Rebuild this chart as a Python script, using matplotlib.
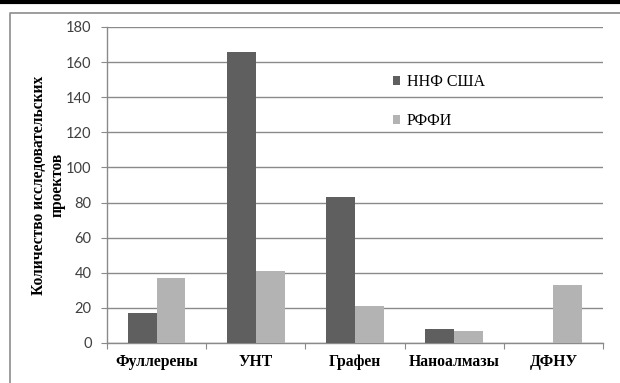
import matplotlib
matplotlib.use("Agg")
import matplotlib.pyplot as plt
from matplotlib.lines import Line2D
import numpy as np

categories = ["Фуллерены", "УНТ", "Графен", "Наноалмазы", "ДФНУ"]
nsf_usa = [17, 166, 83, 8, 0]
rffi = [37, 41, 21, 7, 33]
series_names = ["ННФ США", "РФФИ"]
y_ticks = [0, 20, 40, 60, 80, 100, 120, 140, 160, 180]
y_label = "Количество исследовательских\nпроектов"

W, H = 620, 383
fig = plt.figure(figsize=(W / 100, H / 100), dpi=100)
fig.patch.set_facecolor("white")

# thick black rule at the top and the chart frame
fig.add_artist(Line2D([0, 1], [1 - 1.5 / H, 1 - 1.5 / H], color="black", lw=3,
                      transform=fig.transFigure))
fig.add_artist(Line2D([9.5 / W, 9.5 / W, 1.0], [0, 1 - 12.5 / H, 1 - 12.5 / H],
                      color="#8c8c8c", lw=1.2, transform=fig.transFigure))

left, right, top, bottom = 107, 603, 27, 343
ax = fig.add_axes([left / W, 1 - bottom / H, (right - left) / W, (bottom - top) / H])

dark = "#5f5f5f"
light = "#b3b3b3"
x = np.arange(len(categories))
bw = 0.29
ax.bar(x - bw / 2, nsf_usa, width=bw, color=dark, label=series_names[0], zorder=3)
ax.bar(x + bw / 2, rffi, width=bw, color=light, label=series_names[1], zorder=3)

ax.set_xlim(-0.5, len(categories) - 0.5)
ax.set_ylim(0, 180)
ax.set_yticks(y_ticks)
ax.yaxis.grid(True, color="#8a8a8a", lw=1.0, zorder=0)
ax.set_axisbelow(True)

for s in ["top", "right"]:
    ax.spines[s].set_visible(False)
for s in ["left", "bottom"]:
    ax.spines[s].set_color("#8a8a8a")
    ax.spines[s].set_linewidth(1.0)

ax.tick_params(axis="y", length=4, color="#8a8a8a", labelsize=10.5, labelcolor="#404040", pad=7)
for lbl in ax.get_yticklabels():
    lbl.set_family("Lato")

# category ticks at group boundaries, labels at centers
ax.set_xticks(np.arange(len(categories) + 1) - 0.5)
ax.set_xticklabels([])
ax.tick_params(axis="x", length=4, color="#8a8a8a")
ax.set_xticks(x, minor=True)
ax.set_xticklabels(categories, minor=True, fontfamily="Liberation Serif",
                   fontweight="bold", fontsize=11.3)
ax.tick_params(axis="x", which="minor", length=0, pad=8)

fig.text(48 / W, 1 - 185 / H, y_label, rotation=90, ha="center", va="center",
         fontfamily="Liberation Serif", fontweight="bold", fontsize=11.2,
         linespacing=1.2)

leg = ax.legend(loc="upper left", bbox_to_anchor=((393 - left) / (right - left), 1 - (74 - top) / (bottom - top)),
                frameon=False, prop={"family": "Liberation Serif", "size": 11.5},
                handlelength=0.45, handleheight=0.45, handletextpad=0.4,
                labelspacing=1.45, borderpad=0, borderaxespad=0)

fig.savefig("out.png", dpi=100, facecolor="white")
